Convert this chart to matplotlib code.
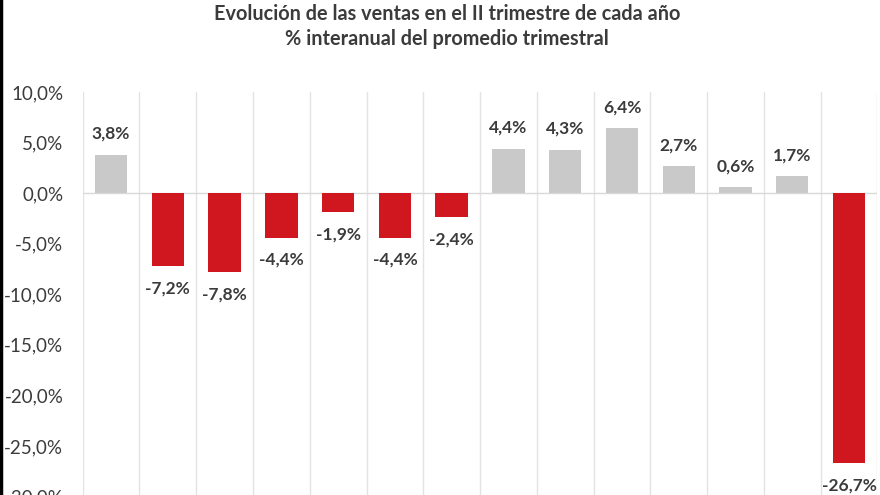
import matplotlib.pyplot as plt
import numpy as np
from matplotlib.lines import Line2D

# datos del gráfico (variación % interanual, II trimestre)
valores = [3.8, -7.2, -7.8, -4.4, -1.9, -4.4, -2.4, 4.4, 4.3, 6.4, 2.7, 0.6, 1.7, -26.7]
ticks_y = [10, 5, 0, -5, -10, -15, -20, -25, -30]
titulo = "Evolución de las ventas en el II trimestre de cada año"
subtitulo = "% interanual del promedio trimestral"

GRIS = "#c9c9c9"
ROJO = "#d0161e"
TEXTO = "#3b3b3b"

plt.rcParams['font.family'] = ['Lato', 'DejaVu Sans']

fig = plt.figure(figsize=(8.8, 4.95), dpi=100)
ax = fig.add_axes([0.094, -0.003, 0.903, 0.817])

x = np.arange(len(valores))
colores = [GRIS if v >= 0 else ROJO for v in valores]
ax.bar(x, valores, width=0.57, color=colores, zorder=3)

# etiquetas de valor
for xi, v in zip(x, valores):
    txt = f"{v:.1f}%".replace(".", ",")
    off = 15 if v >= 0 else -16
    ax.annotate(txt, (xi, v), xytext=(0, off), textcoords="offset points",
                ha="center", va="center", fontsize=12.5, fontweight="bold",
                color=TEXTO, zorder=4)

ax.set_xlim(-0.5, len(valores) - 0.5)
ax.set_ylim(-30, 10)
ax.set_yticks(ticks_y)
ax.set_yticklabels([f"{t:.1f}%".replace(".", ",") for t in ticks_y])
ax.tick_params(axis="y", length=0, pad=14, labelsize=13.5, labelcolor=TEXTO)
ax.set_xticks([])

# líneas verticales entre categorías
for b in np.arange(-0.5, len(valores) + 0.5, 1):
    ax.axvline(b, color="#e3e3e3", lw=1, zorder=1)
ax.axhline(0, color="#d9d9d9", lw=1, zorder=2)

for s in ax.spines.values():
    s.set_visible(False)

fig.text(0.508, 0.971, titulo, ha="center", va="center", fontsize=14.3,
         fontweight="bold", color=TEXTO)
fig.text(0.508, 0.922, subtitulo, ha="center", va="center", fontsize=14.3,
         fontweight="bold", color=TEXTO)

# borde negro a la izquierda
fig.add_artist(Line2D([0.001, 0.001], [0, 1], color="black", lw=2.5,
                      transform=fig.transFigure))

fig.savefig("out.png", dpi=100)
